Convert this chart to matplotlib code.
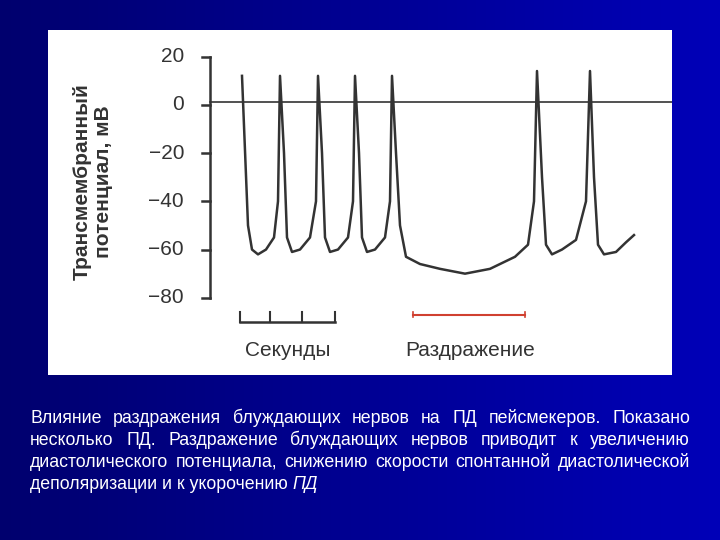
import numpy as np
import matplotlib
matplotlib.use("Agg")
import matplotlib.pyplot as plt
from matplotlib.colors import LinearSegmentedColormap
plt.rcParams['font.family'] = ['Liberation Sans', 'DejaVu Sans']

# trace: x position (panel px units) and membrane potential, mV
trace_x = [242,248,252,258,266,274,278,280,284,287,292,300,310,316,318,322,325,330,338,348,353,355,359,362,367,375,385,390,392,396,400,406,420,440,465,490,515,528,534,537,542,546,552,562,576,586,590,594,598,604,616,626,634]
trace_v = [12,-50,-60,-62,-60,-55,-40,12,-20,-55,-61,-60,-55,-40,12,-20,-55,-61,-60,-55,-40,12,-20,-55,-61,-60,-55,-40,12,-20,-50,-63,-66,-68,-70,-68,-63,-58,-40,14,-30,-58,-62,-60,-56,-40,14,-30,-58,-62,-61,-57,-54]
yticks = [20, 0, -20, -40, -60, -80]
ytick_labels = ["20", "0", "\u221220", "\u221240", "\u221260", "\u221280"]
second_ticks = [240, 270, 302, 335]
stim_span = [413, 525]

fig = plt.figure(figsize=(7.2, 5.4), dpi=100)
bg = fig.add_axes([0, 0, 1, 1])
grad = np.linspace(0, 1, 256).reshape(1, -1)
cm = LinearSegmentedColormap.from_list("b", ["#00006e", "#0000b8"])
bg.imshow(grad, aspect="auto", cmap=cm, extent=[0, 1, 0, 1])
bg.set_axis_off()

ax = fig.add_axes([48/720, 1-375/540, 624/720, 345/540])
ax.set_facecolor("white")
ax.set_xlim(48, 672)
ax.set_ylim(-112, 31)
ax.set_xticks([]); ax.set_yticks([])
for s in ax.spines.values():
    s.set_visible(False)
c = "#333333"
ax.plot([210, 210], [20, -80], color=c, lw=1.8)
for t, lab in zip(yticks, ytick_labels):
    ax.plot([202, 210], [t, t], color=c, lw=1.8)
    ax.text(184, t, lab, ha="right", va="center", fontsize=15, color=c)
ax.plot([210, 672], [1, 1], color=c, lw=1.2)
ax.plot(trace_x, trace_v, color=c, lw=1.8)
ax.text(93, -32, "Трансмембранный\nпотенциал, мВ", rotation=90, ha="center", va="center",
        fontsize=15, color=c, fontweight="bold", linespacing=1.1)
ax.plot([second_ticks[0], second_ticks[-1]], [-90, -90], color=c, lw=1.8)
for t in second_ticks:
    ax.plot([t, t], [-90, -86], color=c, lw=1.5)
ax.text(288, -102, "Секунды", ha="center", va="center", fontsize=15, color=c)
ax.plot(stim_span, [-87, -87], color="#d04030", lw=1.5)
for t in stim_span:
    ax.plot([t, t], [-86, -88], color="#d04030", lw=1.2)
ax.text(470, -102, "Раздражение", ha="center", va="center", fontsize=15, color=c)

lines = ["Влияние раздражения блуждающих нервов на ПД пейсмекеров. Показано",
         "несколько ПД. Раздражение блуждающих нервов приводит к увеличению",
         "диастолического потенциала, снижению скорости спонтанной диастолической"]
ys = [423, 445, 467]
fs = 12.8
fig.canvas.draw()
r = fig.canvas.get_renderer()
x0, x1 = 30, 690
for l, y in zip(lines, ys):
    words = l.split()
    ts = [fig.text(0, 1-y/540, w, color="white", fontsize=fs, va="baseline") for w in words]
    ws = [tt.get_window_extent(r).width for tt in ts]
    gap = (x1 - x0 - sum(ws)) / (len(words) - 1)
    x = x0
    for tt, w in zip(ts, ws):
        tt.set_x(x/720)
        x += w + gap
t = fig.text(30/720, 1-489/540, "деполяризации и к укорочению ", color="white", fontsize=fs, va="baseline")
bb = t.get_window_extent(r)
fig.text(bb.x1/720, 1-489/540, "ПД", color="white", fontsize=fs, va="baseline", style="italic")
fig.savefig("out.png", dpi=100)
